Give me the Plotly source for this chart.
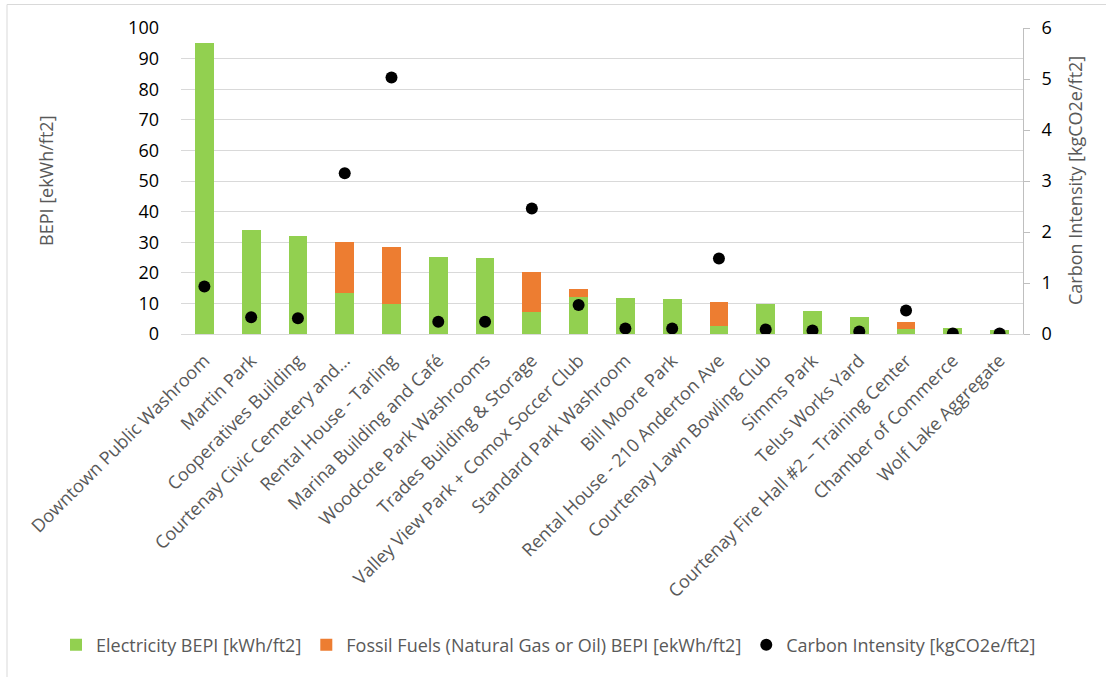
import plotly.graph_objects as go

# Building energy performance by facility
buildings = [
    "Downtown Public Washroom", "Martin Park", "Cooperatives Building",
    "Courtenay Civic Cemetery and...", "Rental House - Tarling",
    "Marina Building and Café", "Woodcote Park Washrooms",
    "Trades Building & Storage", "Valley View Park + Comox Soccer Club",
    "Standard Park Washroom", "Bill Moore Park", "Rental House - 210 Anderton Ave",
    "Courtenay Lawn Bowling Club", "Simms Park", "Telus Works Yard",
    "Courtenay Fire Hall #2 \u2013 Training Center", "Chamber of Commerce",
    "Wolf Lake Aggregate",
]
electricity_bepi = [95.0, 34.0, 32.1, 13.3, 9.8, 25.3, 24.9, 7.1, 12.2,
                    11.9, 11.3, 2.6, 9.7, 7.6, 5.6, 1.5, 1.9, 1.3]
fossil_bepi = [0, 0, 0, 16.8, 18.7, 0, 0, 13.2, 2.4,
               0, 0, 8.0, 0, 0, 0, 2.5, 0, 0]
carbon_intensity = [0.93, 0.33, 0.31, 3.15, 5.03, 0.24, 0.24, 2.46, 0.57,
                    0.11, 0.11, 1.48, 0.09, 0.07, 0.05, 0.46, 0.01, 0.01]

GREEN = "#92D050"
ORANGE = "#ED7D31"
GRID = "#D9D9D9"
TEXT = "#595959"
FONT = "Open Sans"
FS = 18

fig = go.Figure()
fig.add_trace(go.Bar(
    x=buildings, y=electricity_bepi, name="Electricity BEPI [kWh/ft2]",
    marker=dict(color=GREEN, line=dict(width=0)),
))
fig.add_trace(go.Bar(
    x=buildings, y=fossil_bepi,
    name="Fossil Fuels (Natural Gas or Oil) BEPI [ekWh/ft2]",
    marker=dict(color=ORANGE, line=dict(width=0)),
))
fig.add_trace(go.Scatter(
    x=buildings, y=carbon_intensity, yaxis="y2", mode="markers",
    name="Carbon Intensity [kgCO2e/ft2]",
    marker=dict(color="black", size=12, symbol="circle"),
))

L, R, T, B = 181, 83, 28, 343
W, H = 1106, 677
pw, ph = W - L - R, H - T - B

def px(x):
    return (x - L) / pw

def py(y):
    return (H - B - y) / ph

fig.update_layout(
    width=W, height=H, barmode="stack", bargap=0.6,
    paper_bgcolor="white", plot_bgcolor="white",
    margin=dict(l=L, r=R, t=T, b=B, autoexpand=False),
    font=dict(family=FONT, size=FS, color=TEXT),
    showlegend=True,
    legend=dict(
        orientation="h", x=px(56), xanchor="left", y=py(645), yanchor="middle",
        font=dict(family=FONT, size=FS, color=TEXT),
        traceorder="normal", itemwidth=30,
    ),
    xaxis=dict(
        range=[-0.5, len(buildings) - 0.5],
        tickangle=-45, tickfont=dict(family=FONT, size=FS, color=TEXT),
        showgrid=False, showline=True, linecolor=GRID, linewidth=1,
        ticks="", zeroline=False, ticklabelstandoff=8,
    ),
    yaxis=dict(
        range=[0, 100], dtick=10, showgrid=True, gridcolor=GRID, gridwidth=1,
        zeroline=False, showline=False, ticks="", ticklabelstandoff=21,
        tickfont=dict(family=FONT, size=FS, color="black"),
    ),
    yaxis2=dict(
        range=[0, 6], dtick=1, overlaying="y", side="right",
        showgrid=False, zeroline=False, showline=True, linecolor="#BFBFBF",
        ticks="outside", ticklen=6, tickcolor="#BFBFBF", ticklabelstandoff=8,
        tickfont=dict(family=FONT, size=FS, color="black"),
    ),
    shapes=[dict(
        type="rect", xref="paper", yref="paper",
        x0=px(7), x1=px(W + 10), y0=py(H + 10), y1=py(4.5),
        line=dict(color=GRID, width=1), fillcolor="rgba(0,0,0,0)", layer="below",
    )],
    annotations=[
        dict(text="BEPI [ekWh/ft2]", xref="paper", yref="paper",
             x=px(46), y=0.5, xanchor="center", yanchor="middle",
             textangle=-90, showarrow=False,
             font=dict(family=FONT, size=FS, color=TEXT)),
        dict(text="Carbon Intensity [kgCO2e/ft2]", xref="paper", yref="paper",
             x=px(1075), y=0.5, xanchor="center", yanchor="middle",
             textangle=-90, showarrow=False,
             font=dict(family=FONT, size=FS, color=TEXT)),
    ],
)

fig.write_html("out.html")
